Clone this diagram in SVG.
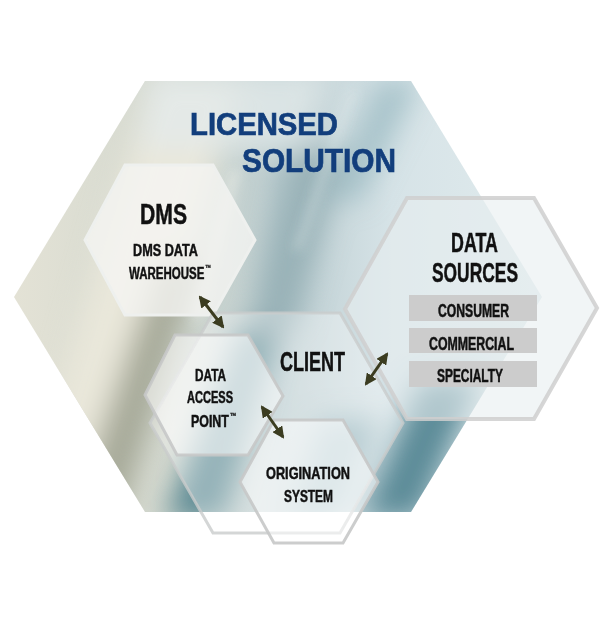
<svg xmlns="http://www.w3.org/2000/svg" width="612" height="630" viewBox="0 0 612 630">
<defs>
<style>
.t{font-family:"Liberation Sans",Arial,sans-serif;font-weight:bold;fill:#111111;stroke:#111111;stroke-width:0.5}
.title{font-family:"Liberation Sans",Arial,sans-serif;font-weight:bold;fill:#123e7c;stroke:#123e7c;stroke-width:0.7}
.tm{font-size:9px;stroke-width:0.3}
.box{fill:#cccccc}
.arrow{stroke:#3b3c20;stroke-width:3;fill:none;marker-start:url(#ah);marker-end:url(#ah)}
</style>
<marker id="ah" viewBox="0 0 12 12" refX="10" refY="6" markerWidth="12" markerHeight="12" markerUnits="userSpaceOnUse" orient="auto-start-reverse">
<path d="M0,0 L12,6 L0,12 Z" fill="#3b3c20"/>
</marker>
<clipPath id="bigclip"><polygon points="14,297 145,81 411,81 542,297 411,512 145,512"/></clipPath>
<linearGradient id="base" x1="0" y1="0" x2="1" y2="0">
<stop offset="0" stop-color="#e5e3d6"/>
<stop offset="0.3" stop-color="#d3d8cf"/>
<stop offset="0.5" stop-color="#bccdd0"/>
<stop offset="0.7" stop-color="#d6e3e7"/>
<stop offset="1" stop-color="#e2ecee"/>
</linearGradient>
<filter id="blur" x="-50%" y="-50%" width="200%" height="200%"><feGaussianBlur stdDeviation="14"/></filter>
<filter id="blur2" x="-50%" y="-50%" width="200%" height="200%"><feGaussianBlur stdDeviation="6"/></filter>
</defs>
<rect width="612" height="630" fill="#ffffff"/>
<g id="background" clip-path="url(#bigclip)">
<rect x="0" y="70" width="560" height="460" fill="url(#base)"/>
<g filter="url(#blur)">
<polygon points="150,80 240,80 110,520 20,520" fill="#e9e7da"/>
<polygon points="160,260 200,260 120,520 70,520" fill="#9a9e8c" opacity="0.85"/>
<polygon points="240,330 280,330 225,520 165,520" fill="#55858f" opacity="0.95"/>
<polygon points="290,150 345,150 295,330 250,330" fill="#92adb3" opacity="0.85"/>
<polygon points="380,80 420,80 360,200 330,200" fill="#9abac2" opacity="0.8"/>
<polygon points="420,380 480,380 420,520 360,520" fill="#548694" opacity="0.95"/>
<polygon points="150,70 330,70 300,150 140,150" fill="#e2eaea" opacity="0.8"/>
<polygon points="320,420 380,420 340,520 290,520" fill="#77a0a9" opacity="0.7"/>
</g>
<g filter="url(#blur2)">
<polygon points="232,170 240,170 200,320 192,320" fill="#f4f4ef" opacity="0.6"/>
<polygon points="350,90 356,90 300,250 294,250" fill="#eef3f3" opacity="0.5"/>
</g>
</g>
<g id="licensed-solution">
<text class="title" x="190" y="135" font-size="32" textLength="148" lengthAdjust="spacingAndGlyphs">LICENSED</text>
<text class="title" x="242" y="172" font-size="33" textLength="154" lengthAdjust="spacingAndGlyphs">SOLUTION</text>
</g>
<g id="data-sources">
<polygon points="345,309 407,198 534,198 597,308 534,419 407,419" fill="#e8eef0" fill-opacity="0.6" stroke="#cfcfcf" stroke-opacity="0.85" stroke-width="4"/>
<text class="t" x="451" y="252" font-size="27" textLength="47" lengthAdjust="spacingAndGlyphs">DATA</text>
<text class="t" x="432" y="282" font-size="27" textLength="86" lengthAdjust="spacingAndGlyphs">SOURCES</text>
<rect class="box" x="409" y="295" width="128" height="26"/>
<rect class="box" x="409" y="328" width="128" height="25"/>
<rect class="box" x="409" y="361" width="128" height="26"/>
<text class="t" x="438" y="317" font-size="17.5" textLength="71" lengthAdjust="spacingAndGlyphs">CONSUMER</text>
<text class="t" x="429" y="350" font-size="17.5" textLength="85" lengthAdjust="spacingAndGlyphs">COMMERCIAL</text>
<text class="t" x="437" y="382" font-size="17.5" textLength="66" lengthAdjust="spacingAndGlyphs">SPECIALTY</text>
</g>
<g id="dms">
<polygon points="85,240 125,165 213,165 255,240 213,315 125,315" fill="#f5f5f2" fill-opacity="0.8" stroke="#eef0ee" stroke-width="3"/>
<text class="t" x="140" y="224" font-size="29" textLength="47" lengthAdjust="spacingAndGlyphs">DMS</text>
<text class="t" x="133" y="256" font-size="17" textLength="65" lengthAdjust="spacingAndGlyphs">DMS DATA</text>
<text class="t" font-size="17" transform="translate(129,279) scale(0.676,1)">WAREHOUSE<tspan class="tm" dx="1" baseline-shift="8">™</tspan></text>
</g>
<g id="client">
<polygon points="150,423 213,313 340,313 403,423 340,533 213,533" fill="#ffffff" fill-opacity="0.35" stroke="#c9cccc" stroke-opacity="0.8" stroke-width="3"/>
<text class="t" x="280" y="371" font-size="27" textLength="65" lengthAdjust="spacingAndGlyphs">CLIENT</text>
</g>
<g id="data-access-point">
<polygon points="145,395 175,335 248,335 283,396 248,455 177,455" fill="#ffffff" fill-opacity="0.55" stroke="#c6c8c8" stroke-opacity="0.9" stroke-width="3"/>
<text class="t" x="195" y="381" font-size="17" textLength="31" lengthAdjust="spacingAndGlyphs">DATA</text>
<text class="t" x="187" y="403" font-size="17" textLength="46" lengthAdjust="spacingAndGlyphs">ACCESS</text>
<text class="t" font-size="17" transform="translate(191,427) scale(0.73,1)">POINT<tspan class="tm" dx="1" baseline-shift="8">™</tspan></text>
</g>
<g id="origination-system">
<polygon points="240,482 274,420 343,420 378,482 343,543 274,543" fill="#ffffff" fill-opacity="0.55" stroke="#c6c8c8" stroke-opacity="0.9" stroke-width="3"/>
<text class="t" x="266" y="479" font-size="17" textLength="84" lengthAdjust="spacingAndGlyphs">ORIGINATION</text>
<text class="t" x="284" y="502" font-size="17" textLength="49" lengthAdjust="spacingAndGlyphs">SYSTEM</text>
</g>
<g id="connectors">
<line class="arrow" x1="200" y1="297" x2="223" y2="327"/>
<line class="arrow" x1="262" y1="407" x2="283" y2="437"/>
<line class="arrow" x1="387" y1="354" x2="366" y2="384"/>
</g>
</svg>
